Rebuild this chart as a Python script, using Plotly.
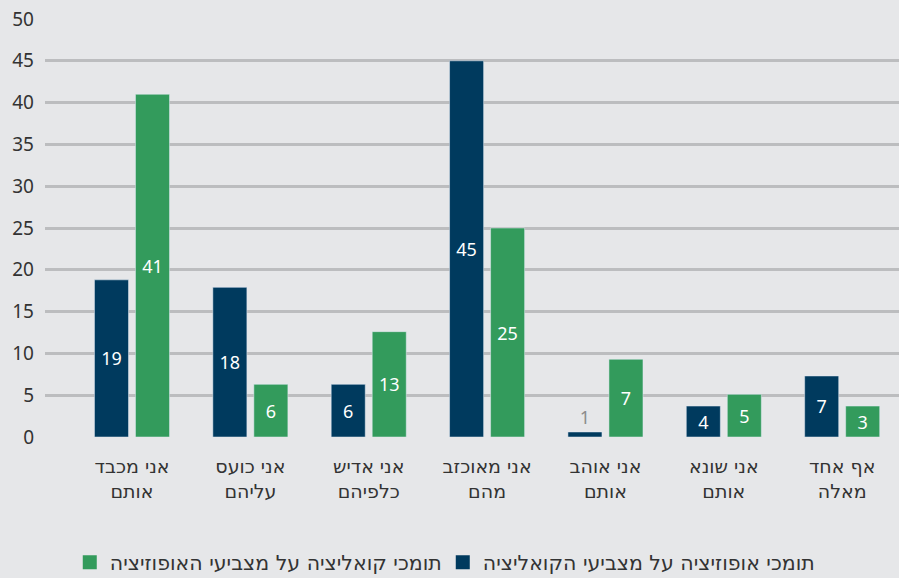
import plotly.graph_objects as go

categories = ["אני מכבד<br>אותם", "אני כועס<br>עליהם", "אני אדיש<br>כלפיהם", "אני מאוכזב<br>מהם",
              "אני אוהב<br>אותם", "אני שונא<br>אותם", "אף אחד<br>מאלה"]
series_names = ["תומכי אופוזיציה על מצביעי הקואליציה", "תומכי קואליציה על מצביעי האופוזיציה"]
opp_values = [18.8, 17.9, 6.3, 45.0, 0.6, 3.7, 7.3]
opp_labels = ["19", "18", "6", "45", "1", "4", "7"]
coal_values = [41.0, 6.3, 12.6, 25.0, 9.3, 5.1, 3.7]
coal_labels = ["41", "6", "13", "25", "7", "5", "3"]
y_ticks = [0, 5, 10, 15, 20, 25, 30, 35, 40, 45, 50]

NAVY = "#003a5e"
GREEN = "#339b5c"
BG = "#e6e7e9"
NUM_FONT = "Noto Sans, Open Sans, sans-serif"
HEB_FONT = "DejaVu Sans, sans-serif"

x = list(range(len(categories)))

opp_pos = ["outside" if v < 2 else "inside" for v in opp_values]
opp_col = ["#8c8c8c" if v < 2 else "white" for v in opp_values]

fig = go.Figure()
fig.add_trace(go.Bar(
    x=x, y=opp_values, name=series_names[0], marker_color=NAVY, showlegend=False,
    text=opp_labels, textposition=opp_pos, insidetextanchor="middle",
    textfont=dict(color=opp_col, size=18, family=NUM_FONT), cliponaxis=False,
    constraintext="none",
))
fig.add_trace(go.Bar(
    x=x, y=coal_values, name=series_names[1], marker_color=GREEN, showlegend=False,
    text=coal_labels, textposition="inside", insidetextanchor="middle",
    textfont=dict(color="white", size=18, family=NUM_FONT),
    constraintext="none",
))
# legend entries (square swatches), green first (left), navy second
for name, col in [(series_names[1], GREEN), (series_names[0], NAVY)]:
    fig.add_trace(go.Scatter(
        x=[None], y=[None], mode="markers", name=name,
        marker=dict(symbol="square", size=14, color=col), showlegend=True,
    ))

fig.update_layout(
    width=899, height=578,
    margin=dict(l=45, r=0, t=19, b=141, autoexpand=False),
    paper_bgcolor=BG, plot_bgcolor=BG,
    barmode="group", bargap=0.307, bargroupgap=0.17,
    font=dict(family=NUM_FONT, size=19, color="#333333"),
    showlegend=True,
    legend=dict(orientation="h", x=0.029, xanchor="left",
                yref="container", y=0.027, yanchor="middle",
                traceorder="normal", font=dict(size=20.5, color="#333333", family=HEB_FONT),
                bgcolor="rgba(0,0,0,0)", itemclick=False, itemdoubleclick=False,
                entrywidth=328, entrywidthmode="pixels"),
    xaxis=dict(
        tickmode="array", tickvals=x, ticktext=categories,
        range=[-0.735, 6.48], showgrid=False, zeroline=False, showline=False,
        ticks="", ticklabelstandoff=16,
        tickfont=dict(size=19, color="#333333", family=HEB_FONT),
    ),
    yaxis=dict(
        range=[0, 50], tickmode="array", tickvals=y_ticks,
        showgrid=True, gridcolor="#bcbdbf", gridwidth=2.5,
        zeroline=False, showline=False, ticks="",
        ticklabelstandoff=10, tickfont=dict(size=19, color="#333333", family=NUM_FONT),
    ),
)

fig.write_html(
    "out.html",
    config={"displayModeBar": False},
    post_script="document.body.style.margin='0';document.body.style.padding='0';",
)
